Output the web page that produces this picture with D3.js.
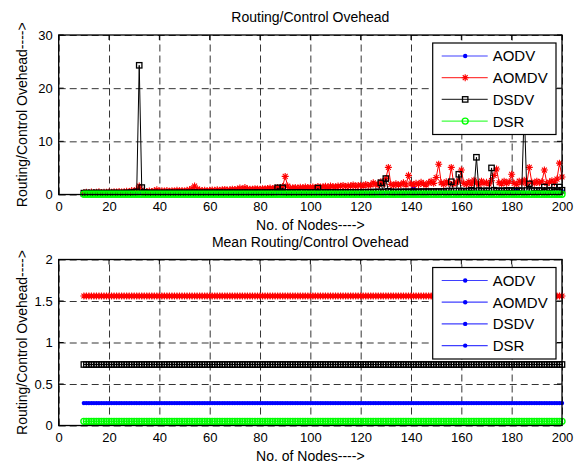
<!DOCTYPE html>
<html lang="en">
<head>
<meta charset="UTF-8">
<title>Routing/Control Ovehead</title>
<script src="https://d3js.org/d3.v7.min.js"></script>
<style>
    body { margin: 0; background: #fff; }
    svg { display: block; font-family: "Liberation Sans", Arial, sans-serif; }
    .grid line { stroke: #000; stroke-width: 0.8; stroke-dasharray: 7,4; }
    .grid path { display: none; }
    .ticks path { display: none; }
    .ticks line { stroke: #000; }
    .ticks text { font-size: 13px; fill: #000; }
</style>
</head>
<body>
<svg id="chart" width="582" height="468"></svg>
<script>
// x categories: number of nodes
const nodes = d3.range(10, 201);
const xTicks = [0, 20, 40, 60, 80, 100, 120, 140, 160, 180, 200];
const yTicksTop = [0, 10, 20, 30];
const yTicksBottom = [0, 0.5, 1, 1.5, 2];
const seriesNames = ["AODV", "AOMDV", "DSDV", "DSR"];

// routing overhead per node count (10..200)
const aodv = [
  0.22,0.25,0.21,0.24,0.2,0.23,0.26,0.22,0.24,0.21,
  0.23,0.25,0.22,0.2,0.24,0.26,0.23,0.21,0.25,0.22,
  0.24,0.27,0.3,0.25,0.22,0.24,0.21,0.26,0.23,0.25,
  0.22,0.24,0.27,0.23,0.21,0.25,0.22,0.26,0.24,0.23,
  0.25,0.22,0.28,0.24,0.26,0.23,0.21,0.25,0.27,0.22,
  0.24,0.26,0.23,0.25,0.22,0.27,0.24,0.21,0.26,0.23,
  0.25,0.28,0.24,0.22,0.26,0.23,0.27,0.25,0.22,0.24,
  0.26,0.23,0.28,0.25,0.24,0.27,0.22,0.26,0.29,0.25,
  0.24,0.27,0.23,0.26,0.28,0.25,0.22,0.27,0.24,0.26,
  0.25,0.28,0.23,0.27,0.3,0.24,0.26,0.22,0.28,0.25,
  0.27,0.24,0.29,0.26,0.23,0.28,0.25,0.3,0.24,0.27,
  0.26,0.29,0.25,0.31,0.27,0.24,0.3,0.28,0.33,0.26,
  0.29,0.27,0.32,0.25,0.3,0.28,0.26,0.31,0.29,0.35,
  0.3,1.3,0.28,0.33,0.27,0.31,0.29,0.36,0.28,0.32,
  0.3,0.34,0.27,0.38,0.31,0.29,0.35,0.3,0.33,0.28,
  0.36,0.31,0.29,0.4,0.32,0.3,0.37,0.28,0.34,0.31,
  0.33,0.38,0.29,0.35,0.31,0.42,0.3,0.36,0.33,0.29,
  0.37,0.32,0.9,0.34,0.3,0.39,0.33,0.35,0.31,0.4,
  0.34,0.3,0.38,0.33,0.36,0.31,0.41,0.35,0.32,0.37,
  0.6
];
const aomdv = [
  0.35,0.4,0.3,0.45,0.38,0.42,0.5,0.36,0.44,0.4,
  0.48,0.42,0.5,0.45,0.55,0.47,0.52,0.6,0.5,0.75,
  0.65,0.9,1.6,0.8,0.6,0.55,0.65,0.58,0.7,0.9,
  0.62,0.7,0.66,0.75,0.6,0.72,0.68,0.8,0.7,0.74,
  0.68,0.8,0.9,1.1,1.6,1.0,0.85,0.75,0.8,0.72,
  0.78,0.85,0.8,0.9,0.82,0.88,0.95,0.84,0.9,1.0,
  0.92,1.0,1.2,0.95,1.3,1.05,1.0,0.98,1.1,1.05,
  1.0,1.1,1.05,1.15,1.2,1.1,1.25,1.3,1.2,1.5,
  3.4,1.6,1.2,1.25,1.3,1.2,1.35,1.25,1.4,1.3,
  1.35,1.4,1.3,1.5,1.4,1.45,1.55,1.4,1.6,1.5,
  1.45,1.6,1.55,1.7,1.5,1.65,1.6,1.8,1.55,1.7,
  1.75,1.6,1.9,1.7,1.8,2.2,1.85,1.9,2.4,2.0,
  3.0,5.1,1.9,1.7,2.0,1.8,1.9,2.2,1.8,3.6,
  2.0,1.8,2.1,1.9,2.3,2.0,1.8,2.2,2.5,2.1,
  3.2,5.7,2.2,1.9,2.4,2.1,5.1,2.0,2.3,2.6,
  4.6,2.1,1.9,2.4,2.0,2.7,2.2,1.9,2.5,2.1,
  2.3,2.0,2.6,3.6,4.8,2.2,2.0,2.5,2.1,2.4,
  3.8,2.1,1.9,2.5,2.2,2.7,2.0,5.1,2.3,2.1,
  2.5,2.2,2.4,4.6,2.1,2.3,2.6,2.2,2.9,5.9,
  3.3
];
const dsdv = [
  0.25,0.3,0.22,0.28,0.25,0.3,0.24,0.27,0.26,0.25,
  0.27,0.25,0.3,0.26,0.24,0.28,0.25,0.3,0.27,0.35,
  0.4,0.5,24.3,1.3,0.4,0.3,0.28,0.26,0.3,0.27,
  0.28,0.26,0.3,0.27,0.32,0.27,0.3,0.28,0.31,0.29,
  0.3,0.28,0.32,0.29,0.35,0.31,0.28,0.32,0.3,0.33,
  0.31,0.29,0.33,0.3,0.34,0.32,0.3,0.33,0.31,0.35,
  0.32,0.3,0.34,0.31,0.36,0.33,0.31,0.35,0.32,0.36,
  0.34,0.32,0.36,0.33,0.37,0.35,0.4,1.25,0.5,1.25,
  0.4,0.36,0.38,0.35,0.4,0.37,0.41,0.38,0.4,0.36,
  0.35,0.37,0.4,1.2,0.38,0.35,0.37,0.34,0.38,0.36,
  0.37,0.35,0.39,0.36,0.4,0.37,0.41,0.38,0.39,0.41,
  0.4,0.42,0.41,0.44,0.42,0.45,0.44,0.5,2.2,0.48,
  3.0,0.6,0.48,0.44,0.48,0.45,0.49,0.47,0.5,0.48,
  0.5,0.52,0.49,0.52,0.5,0.54,0.51,0.55,0.52,0.56,
  0.54,0.56,0.55,0.58,0.6,0.65,2.4,0.6,0.65,3.8,
  0.65,0.6,0.62,0.65,0.8,0.6,7.0,0.75,0.62,0.65,
  0.7,0.65,5.0,0.8,0.65,0.7,0.68,0.65,0.75,0.7,
  0.75,0.7,0.65,0.72,0.7,16.0,0.75,2.0,0.7,0.75,
  0.7,0.75,0.72,1.4,0.75,0.7,0.8,1.4,0.75,1.4,
  0.8
];
const dsr = [
  0.05,0.04,0.05,0.06,0.05,0.05,0.04,0.05,0.06,0.05,
  0.05,0.06,0.05,0.04,0.05,0.05,0.06,0.05,0.04,0.05,
  0.04,0.05,0.06,0.05,0.05,0.04,0.05,0.05,0.06,0.05,
  0.05,0.05,0.04,0.05,0.06,0.05,0.05,0.04,0.05,0.05,
  0.06,0.05,0.05,0.04,0.05,0.05,0.06,0.05,0.05,0.04,
  0.05,0.06,0.05,0.05,0.04,0.05,0.05,0.06,0.05,0.05,
  0.04,0.05,0.05,0.06,0.05,0.04,0.05,0.05,0.06,0.05,
  0.05,0.04,0.05,0.06,0.05,0.05,0.04,0.05,0.05,0.06,
  0.05,0.05,0.04,0.05,0.06,0.05,0.05,0.05,0.04,0.05,
  0.06,0.05,0.05,0.04,0.05,0.05,0.06,0.05,0.05,0.04,
  0.05,0.06,0.05,0.05,0.04,0.05,0.06,0.05,0.05,0.05,
  0.04,0.05,0.06,0.05,0.05,0.04,0.05,0.06,0.05,0.05,
  0.05,0.04,0.05,0.06,0.05,0.05,0.04,0.05,0.06,0.05,
  0.05,0.05,0.04,0.05,0.06,0.05,0.05,0.04,0.05,0.06,
  0.05,0.05,0.06,0.04,0.05,0.05,0.06,0.05,0.04,0.05,
  0.06,0.05,0.05,0.04,0.05,0.06,0.05,0.05,0.04,0.05,
  0.05,0.06,0.05,0.05,0.04,0.05,0.06,0.05,0.05,0.04,
  0.05,0.05,0.06,0.05,0.04,0.05,0.05,0.06,0.05,0.05,
  0.04,0.05,0.06,0.05,0.05,0.04,0.05,0.06,0.05,0.05,
  0.05
];

// mean overhead of each protocol (bottom panel)
const meanValues = [0.27, 1.56, 0.735, 0.05];

const colors = ["#0000ff", "#ff0000", "#000000", "#00ff00"];
const markers = ["dot", "star", "square", "circle"];
const topSeries = [aodv, aomdv, dsdv, dsr];

const svg = d3.select("#chart");

const x = d3.scaleLinear().domain([0, 200]).range([58.7, 562]);
const yTop = d3.scaleLinear().domain([0, 30]).range([194.5, 35]);
const yBot = d3.scaleLinear().domain([0, 2]).range([425.5, 259.5]);

function drawMarker(g, type, color, px, py) {
    if (type === "dot") {
        g.append("circle").attr("cx", px).attr("cy", py).attr("r", 2.2).attr("fill", color);
    } else if (type === "star") {
        const s = 3.5;
        g.append("path")
            .attr("d", `M${px - s},${py}H${px + s}M${px},${py - s}V${py + s}` +
                `M${px - s * 0.7},${py - s * 0.7}L${px + s * 0.7},${py + s * 0.7}` +
                `M${px - s * 0.7},${py + s * 0.7}L${px + s * 0.7},${py - s * 0.7}`)
            .attr("stroke", color).attr("stroke-width", 1.1).attr("fill", "none");
    } else if (type === "square") {
        g.append("rect").attr("x", px - 2.7).attr("y", py - 2.7).attr("width", 5.4).attr("height", 5.4)
            .attr("fill", "none").attr("stroke", color).attr("stroke-width", 1.3);
    } else {
        g.append("circle").attr("cx", px).attr("cy", py).attr("r", 3)
            .attr("fill", "none").attr("stroke", color).attr("stroke-width", 1.4);
    }
}

function drawPanel(y, yTicks, title, seriesList, legendStyle) {
    const [b, t] = y.range();
    const [l, r] = x.range();

    // dashed grid
    svg.append("g").attr("class", "grid")
        .attr("transform", `translate(0,${b})`)
        .call(d3.axisBottom(x).tickValues(xTicks).tickSize(-(b - t)).tickFormat(""));
    svg.append("g").attr("class", "grid")
        .attr("transform", `translate(${l},0)`)
        .call(d3.axisLeft(y).tickValues(yTicks).tickSize(-(r - l)).tickFormat(""));

    // axes with inward ticks
    svg.append("g").attr("class", "ticks")
        .attr("transform", `translate(0,${b})`)
        .call(d3.axisBottom(x).tickValues(xTicks).tickSize(0).tickPadding(7));
    svg.append("g").attr("class", "ticks")
        .attr("transform", `translate(${l},0)`)
        .call(d3.axisLeft(y).tickValues(yTicks).tickSize(0).tickPadding(6).tickFormat(d => String(d)));
    [[b, -5], [t, 5]].forEach(([yy, d]) => {
        svg.append("g").selectAll("line").data(xTicks).join("line")
            .attr("x1", v => x(v)).attr("x2", v => x(v))
            .attr("y1", yy).attr("y2", yy + d).attr("stroke", "#000");
    });
    [[l, 5], [r, -5]].forEach(([xx, d]) => {
        svg.append("g").selectAll("line").data(yTicks).join("line")
            .attr("x1", xx).attr("x2", xx + d)
            .attr("y1", v => y(v)).attr("y2", v => y(v)).attr("stroke", "#000");
    });

    // series
    const line = d3.line().x(d => x(d[0])).y(d => y(d[1]));
    seriesList.forEach((vals, i) => {
        const pts = nodes.map((n, j) => [n, vals[j]]);
        const g = svg.append("g");
        g.append("path").datum(pts).attr("d", line)
            .attr("fill", "none").attr("stroke", colors[i]).attr("stroke-width", 1);
        pts.forEach(p => drawMarker(g, markers[i], colors[i], x(p[0]), y(p[1])));
    });

    // box
    svg.append("rect").attr("x", l).attr("y", t).attr("width", r - l).attr("height", b - t)
        .attr("fill", "none").attr("stroke", "#000").attr("stroke-width", 1.3);

    // title and labels
    svg.append("text").attr("x", (l + r) / 2).attr("y", t - 13)
        .attr("text-anchor", "middle").attr("font-size", 14).text(title);
    svg.append("text").attr("x", (l + r) / 2).attr("y", b + 35)
        .attr("text-anchor", "middle").attr("font-size", 14).text("No. of Nodes---->");
    svg.append("text")
        .attr("transform", `translate(27,${(t + b) / 2}) rotate(-90)`)
        .attr("text-anchor", "middle").attr("font-size", 14)
        .text("Routing/Control Ovehead---->");

    // legend
    const lx = 432.7, ly = t + 8, lw = 123.3, lh = 91.5;
    const lg = svg.append("g");
    lg.append("rect").attr("x", lx).attr("y", ly).attr("width", lw).attr("height", lh)
        .attr("fill", "#fff").attr("stroke", "#000").attr("stroke-width", 1.2);
    seriesNames.forEach((name, i) => {
        const yy = ly + 13 + i * 21.7;
        const c = legendStyle ? legendStyle.color : colors[i];
        const m = legendStyle ? legendStyle.marker : markers[i];
        lg.append("line").attr("x1", lx + 9).attr("x2", lx + 55).attr("y1", yy).attr("y2", yy)
            .attr("stroke", c).attr("stroke-width", 1.2).attr("opacity", 0.75);
        drawMarker(lg, m, c, lx + 32.5, yy);
        lg.append("text").attr("x", lx + 60).attr("y", yy).attr("dy", "0.36em")
            .attr("font-size", 15).text(name);
    });
}

drawPanel(yTop, yTicksTop, "Routing/Control Ovehead", topSeries, null);

// bottom panel: each protocol's mean drawn at every node count
const meanSeries = meanValues.map(m => nodes.map(() => m));
drawPanel(yBot, yTicksBottom, "Mean Routing/Control Ovehead", meanSeries,
    { color: "#0000ff", marker: "dot" });
</script>
</body>
</html>
